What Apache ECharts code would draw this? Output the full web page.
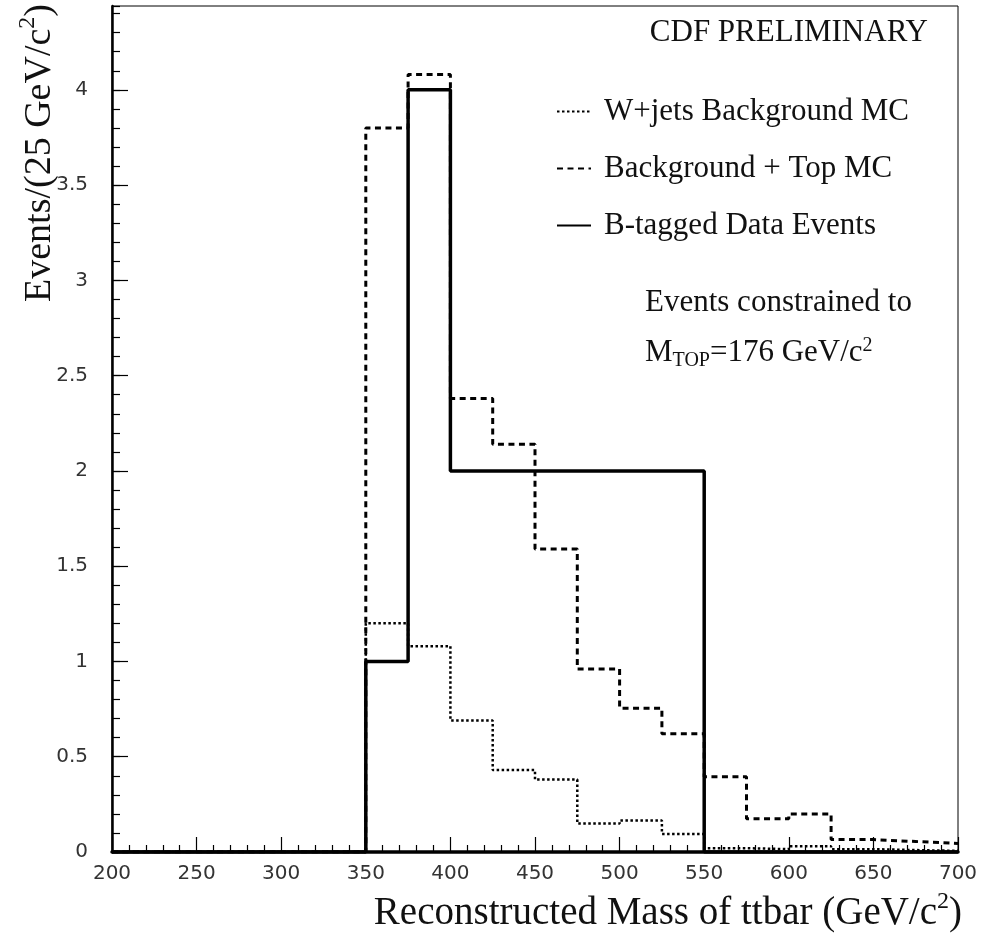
<!DOCTYPE html>
<html>
<head>
<meta charset="utf-8">
<script src="https://cdn.jsdelivr.net/npm/echarts@6/dist/echarts.min.js"></script>
<style>
html,body{margin:0;padding:0;background:#fff;}
#chart{width:984px;height:934px;}
</style>
</head>
<body>
<div id="chart"></div>
<script>
// Bin lower edges (GeV/c^2), bin width 25
const binEdges = [200,225,250,275,300,325,350,375,400,425,450,475,500,525,550,575,600,625,650,675];
const binUpper = 700;
// W+jets Background MC (dotted)
const wjets   = [0,0,0,0,0,0, 1.20,1.08,0.69,0.43,0.38,0.15,0.165,0.095, 0.02,0.015,0.03,0.015,0.01,0.006];
// Background + Top MC (dashed)
const bgTop   = [0,0,0,0,0,0, 3.80,4.08,2.38,2.14,1.59,0.96,0.755,0.62, 0.395,0.175,0.20,0.065,0.055,0.045];
// B-tagged Data Events (solid)
const dataEvt = [0,0,0,0,0,0, 1,4,2,2,2,2,2,2, 0,0,0,0,0,0];

const seriesNames = ['W+jets Background MC','Background + Top MC','B-tagged Data Events'];

function toSteps(vals){
  const pts = binEdges.map((x,i)=>[x, vals[i]]);
  pts.push([binUpper, vals[vals.length-1]]);
  return pts;
}

const serif = 'Liberation Serif';
const sans = 'DejaVu Sans';

const chart = echarts.init(document.getElementById('chart'), null, {renderer:'canvas'});
chart.setOption({
  animation:false,
  backgroundColor:'#fff',
  grid:{left:112, right:26, top:6, bottom:82, show:true, borderColor:'#000', borderWidth:1, backgroundColor:'transparent'},
  legend:{
    show:true, orient:'vertical', left:551, top:91, itemGap:26, itemWidth:34, itemHeight:4,
    itemStyle:{opacity:0},
    textStyle:{fontFamily:serif, fontSize:31, color:'#111', padding:[0,0,0,8]},
    data:seriesNames
  },
  xAxis:{
    type:'value', min:200, max:700, interval:50,
    axisLine:{show:true, onZero:false, lineStyle:{color:'#000', width:3.5}},
    axisTick:{show:true, inside:true, length:15, lineStyle:{color:'#000', width:1.2}},
    minorTick:{show:true, splitNumber:5, length:7, lineStyle:{color:'#000', width:1.2}},
    splitLine:{show:false}, minorSplitLine:{show:false},
    axisLabel:{fontFamily:sans, fontSize:20, color:'#333', margin:12}
  },
  yAxis:[{
    type:'value', min:0, max:4.44, interval:0.5,
    axisLine:{show:true, lineStyle:{color:'#000', width:2.5}},
    axisTick:{show:true, inside:true, length:16, lineStyle:{color:'#000', width:1.2}},
    splitLine:{show:false},
    axisLabel:{fontFamily:sans, fontSize:20, color:'#333', margin:24, showMaxLabel:false,
      formatter:function(v){ return (Math.abs(v*2-Math.round(v*2))<1e-6) ? String(v) : ''; }}
  },{
    type:'value', min:0, max:4.44, interval:0.1, position:'left', offset:0,
    axisLine:{show:false},
    axisTick:{show:true, inside:true, length:8, lineStyle:{color:'#000', width:1.2}},
    axisLabel:{show:false}, splitLine:{show:false}
  }],
  series:[
    {name:seriesNames[0], type:'line', step:'end', symbol:'none', data:toSteps(wjets),
     lineStyle:{color:'#000', width:2.5, type:[2.5,2.5]}, itemStyle:{color:'#000'}, z:3},
    {name:seriesNames[1], type:'line', step:'end', symbol:'none', data:toSteps(bgTop),
     lineStyle:{color:'#000', width:3, type:[6,4.5]}, itemStyle:{color:'#000'}, z:4},
    {name:seriesNames[2], type:'line', step:'end', symbol:'none', data:toSteps(dataEvt),
     lineStyle:{color:'#000', width:3.5, type:'solid'}, itemStyle:{color:'#000'}, z:5}
  ],
  graphic:[
    {type:'text', right:56, top:17, style:{text:'CDF PRELIMINARY', font:'31px "Liberation Serif"', fill:'#111'}},
    {type:'text', left:645, top:287, style:{text:'Events constrained to', font:'31px "Liberation Serif"', fill:'#111'}},
    {type:'text', left:645, top:333, style:{
      text:'{n|M}{b|TOP}{n|=176 GeV/c}{t|2}',
      rich:{
        n:{fontFamily:serif, fontSize:31, fill:'#111', lineHeight:40, verticalAlign:'middle'},
        b:{fontFamily:serif, fontSize:20, fill:'#111', lineHeight:40, verticalAlign:'bottom', padding:[0,0,2,0]},
        t:{fontFamily:serif, fontSize:20, fill:'#111', lineHeight:40, verticalAlign:'top', padding:[3,0,0,0]}
      }}},
    {type:'text', x:40, y:153, rotation:Math.PI/2, style:{
      text:'{n|Events/(25 GeV/c}{t|2}{n|)}', align:'center', verticalAlign:'middle',
      rich:{
        n:{fontFamily:serif, fontSize:38, fill:'#111', lineHeight:48, verticalAlign:'middle'},
        t:{fontFamily:serif, fontSize:24, fill:'#111', lineHeight:48, verticalAlign:'top'}
      }}},
    {type:'text', right:22, top:890, style:{
      text:'{n|Reconstructed Mass of ttbar (GeV/c}{t|2}{n|)}',
      rich:{
        n:{fontFamily:serif, fontSize:39, fill:'#111', lineHeight:48, verticalAlign:'middle'},
        t:{fontFamily:serif, fontSize:24, fill:'#111', lineHeight:48, verticalAlign:'top'}
      }}}
  ]
});
</script>
</body>
</html>
